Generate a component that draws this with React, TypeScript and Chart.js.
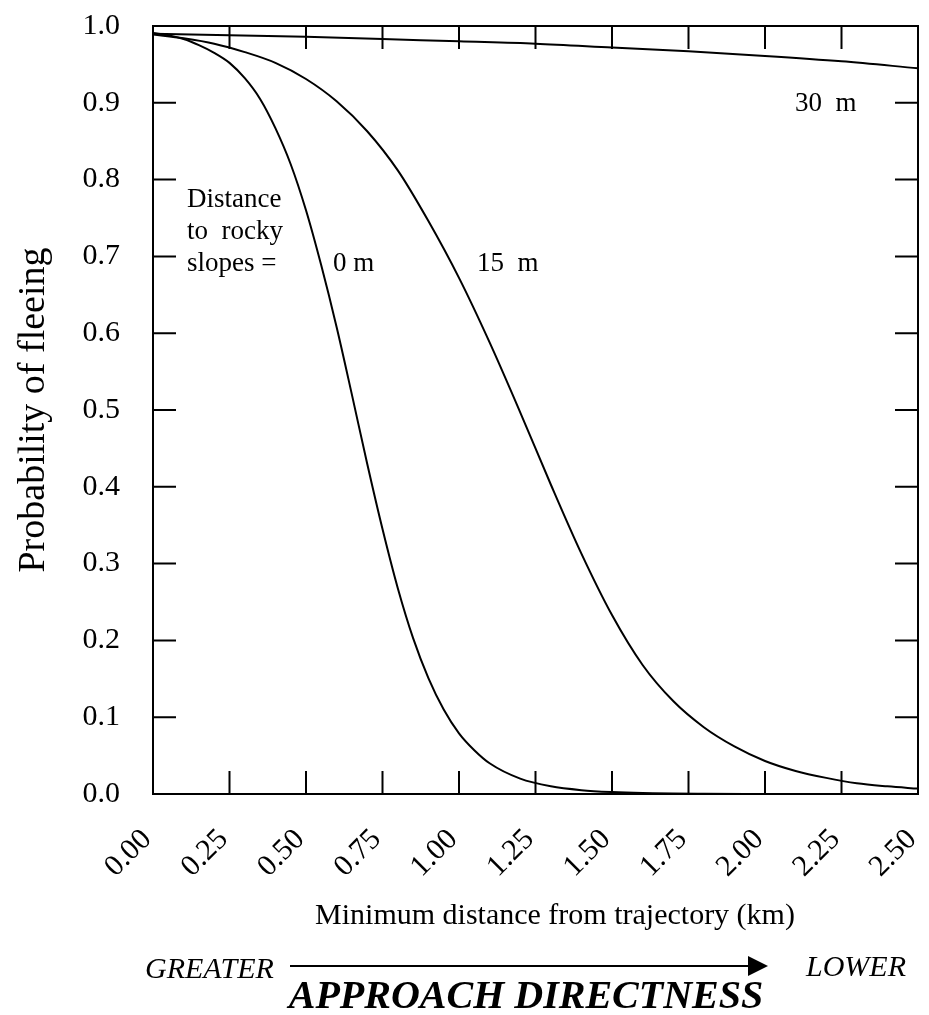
import React, { useEffect, useRef } from 'react';
import { Chart, registerables } from 'chart.js';

Chart.register(...registerables);

// Minimum distance from trajectory (km) and probability of fleeing, per distance to rocky slopes
const distance0m = [0, 0.05, 0.1, 0.15, 0.2, 0.25, 0.3, 0.35, 0.4, 0.45, 0.5, 0.55, 0.6, 0.65, 0.7, 0.75, 0.8, 0.85, 0.9, 0.95, 1.0, 1.05, 1.1, 1.2, 1.3, 1.4, 1.5, 1.6, 1.8, 2.0, 2.5];
const flee0m = [0.991, 0.988, 0.983, 0.975, 0.965, 0.952, 0.932, 0.905, 0.867, 0.82, 0.76, 0.688, 0.608, 0.52, 0.43, 0.345, 0.268, 0.203, 0.151, 0.11, 0.079, 0.057, 0.04, 0.02, 0.01, 0.005, 0.0025, 0.0012, 0.0003, 0.0001, 0];

const distance15m = [0, 0.1, 0.2, 0.3, 0.4, 0.5, 0.6, 0.7, 0.8, 0.9, 1.0, 1.1, 1.2, 1.3, 1.4, 1.5, 1.6, 1.7, 1.8, 1.9, 2.0, 2.1, 2.2, 2.3, 2.4, 2.5];
const flee15m = [0.989, 0.984, 0.977, 0.966, 0.952, 0.931, 0.902, 0.863, 0.812, 0.746, 0.672, 0.588, 0.497, 0.403, 0.313, 0.233, 0.168, 0.121, 0.087, 0.062, 0.043, 0.03, 0.021, 0.014, 0.01, 0.007];

const distance30m = [0, 0.25, 0.5, 0.75, 1.0, 1.25, 1.5, 1.75, 2.0, 2.25, 2.5];
const flee30m = [0.99, 0.988, 0.986, 0.983, 0.98, 0.977, 0.972, 0.967, 0.961, 0.954, 0.945];

const xTickLabels = ['0.00', '0.25', '0.50', '0.75', '1.00', '1.25', '1.50', '1.75', '2.00', '2.25', '2.50'];
const yTickLabels = ['0.0', '0.1', '0.2', '0.3', '0.4', '0.5', '0.6', '0.7', '0.8', '0.9', '1.0'];

const SERIF = '"Liberation Serif", "Times New Roman", serif';
const INK = '#000';

const toPoints = (xs: number[], ys: number[]) => xs.map((x, i) => ({ x, y: ys[i] }));

// Frame around the plot area with inward-pointing tick marks on all four sides
const framePlugin = {
  id: 'frameTicks',
  afterDatasetsDraw(chart: any) {
    const { ctx, chartArea, scales } = chart;
    const { left, right, top, bottom } = chartArea;
    const tick = 23;
    ctx.save();
    ctx.strokeStyle = INK;
    ctx.lineWidth = 2;
    ctx.strokeRect(left, top, right - left, bottom - top);
    ctx.beginPath();
    scales.x.ticks.forEach((t: any) => {
      const px = scales.x.getPixelForValue(t.value);
      if (px <= left + 2 || px >= right - 2) return;
      ctx.moveTo(px, bottom);
      ctx.lineTo(px, bottom - tick);
      ctx.moveTo(px, top);
      ctx.lineTo(px, top + tick);
    });
    scales.y.ticks.forEach((t: any) => {
      const py = scales.y.getPixelForValue(t.value);
      if (py <= top + 2 || py >= bottom - 2) return;
      ctx.moveTo(left, py);
      ctx.lineTo(left + tick, py);
      ctx.moveTo(right, py);
      ctx.lineTo(right - tick, py);
    });
    ctx.stroke();
    ctx.restore();
  },
};

// Curve labels, the x-axis title and the approach-directness arrow
const labelPlugin = {
  id: 'curveLabels',
  afterDraw(chart: any) {
    const { ctx, scales } = chart;
    const { x, y } = scales;
    ctx.save();
    ctx.fillStyle = INK;
    ctx.textBaseline = 'middle';
    ctx.textAlign = 'left';
    ctx.font = `27px ${SERIF}`;
    const put = (text: string, dx: number, dy: number) =>
      ctx.fillText(text, x.getPixelForValue(dx), y.getPixelForValue(dy));
    put('Distance', 0.111, 0.773);
    put('to  rocky', 0.111, 0.732);
    put('slopes =', 0.111, 0.69);
    put('0 m', 0.588, 0.69);
    put('15  m', 1.059, 0.69);
    put('30  m', 2.098, 0.898);

    // x-axis title
    ctx.textAlign = 'center';
    ctx.font = `30px ${SERIF}`;
    ctx.fillText('Minimum distance from trajectory (km)', 555, 916);

    // GREATER ---> LOWER
    ctx.font = `italic 30px ${SERIF}`;
    ctx.textAlign = 'left';
    ctx.fillText('GREATER', 145, 970);
    ctx.fillText('LOWER', 806, 968);
    ctx.strokeStyle = INK;
    ctx.lineWidth = 2;
    ctx.beginPath();
    ctx.moveTo(290, 966);
    ctx.lineTo(750, 966);
    ctx.stroke();
    ctx.beginPath();
    ctx.moveTo(768, 966);
    ctx.lineTo(748, 956);
    ctx.lineTo(748, 976);
    ctx.closePath();
    ctx.fill();

    ctx.font = `italic bold 40px ${SERIF}`;
    ctx.textAlign = 'center';
    ctx.fillText('APPROACH DIRECTNESS', 526, 998);
    ctx.restore();
  },
};

export default function App() {
  const canvasRef = useRef<HTMLCanvasElement | null>(null);

  useEffect(() => {
    document.body.style.margin = '0';
    document.body.style.overflow = 'hidden';
    const canvas = canvasRef.current;
    if (!canvas) return;

    const line = (label: string, xs: number[], ys: number[]) => ({
      label,
      data: toPoints(xs, ys),
      borderColor: INK,
      borderWidth: 2,
      pointRadius: 0,
      fill: false,
      cubicInterpolationMode: 'monotone' as const,
    });

    const chart = new Chart(canvas, {
      type: 'line',
      data: {
        datasets: [
          line('0 m', distance0m, flee0m),
          line('15 m', distance15m, flee15m),
          line('30 m', distance30m, flee30m),
        ],
      },
      options: {
        animation: false,
        responsive: false,
        devicePixelRatio: 1,
        layout: { padding: { top: 26, right: 11, left: 0, bottom: 121 } },
        plugins: { legend: { display: false }, tooltip: { enabled: false } },
        scales: {
          x: {
            type: 'linear',
            min: 0,
            max: 2.5,
            grid: { display: false, drawTicks: false },
            border: { display: false },
            ticks: {
              stepSize: 0.25,
              minRotation: 45,
              maxRotation: 45,
              padding: 28,
              labelOffset: -6,
              color: INK,
              font: { family: SERIF, size: 30 },
              callback: (_v: any, i: number) => xTickLabels[i],
            },
            afterFit: (s: any) => {
              s.height = 100;
              s.paddingLeft = 0;
              s.paddingRight = 0;
            },
          },
          y: {
            type: 'linear',
            min: 0,
            max: 1,
            grid: { display: false, drawTicks: false },
            border: { display: false },
            ticks: {
              stepSize: 0.1,
              padding: 33,
              color: INK,
              font: { family: SERIF, size: 30 },
              callback: (_v: any, i: number) => yTickLabels[i],
            },
            title: {
              display: true,
              text: 'Probability of fleeing',
              color: INK,
              font: { family: SERIF, size: 38 },
              padding: { top: 11, bottom: 0 },
            },
            afterFit: (s: any) => {
              s.width = 153;
              s.paddingTop = 0;
              s.paddingBottom = 0;
            },
          },
        },
      },
      plugins: [framePlugin, labelPlugin],
    });

    return () => chart.destroy();
  }, []);

  return (
    <div style={{ width: 929, height: 1015, background: '#fff' }}>
      <canvas ref={canvasRef} width={929} height={1015} style={{ display: 'block' }} />
    </div>
  );
}
